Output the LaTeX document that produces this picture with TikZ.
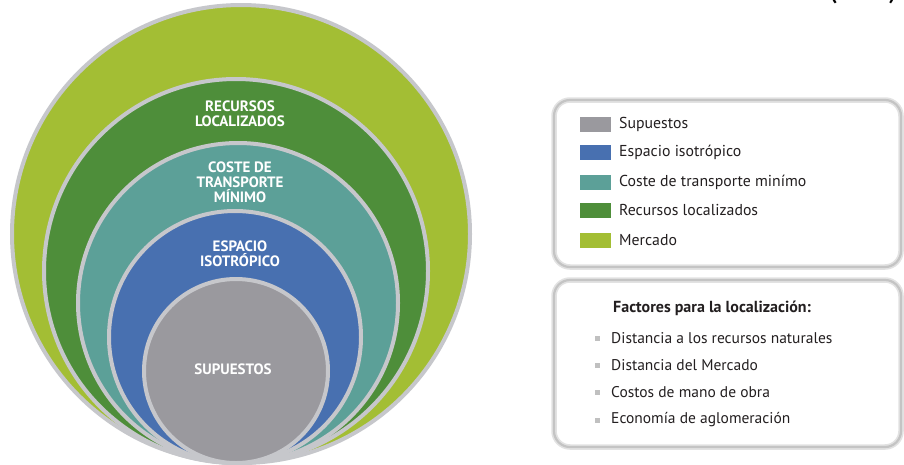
\documentclass[tikz,border=0pt]{standalone}
\usepackage{fontspec}
\setmainfont{PT Sans}
\definecolor{cLime}{HTML}{A3BE34}
\definecolor{cGreen}{HTML}{4E8E3A}
\definecolor{cTeal}{HTML}{5CA098}
\definecolor{cBlue}{HTML}{4870B0}
\definecolor{cGray}{HTML}{9A999E}
\definecolor{cRing}{HTML}{C6C7CB}
\definecolor{cBoxOut}{HTML}{E2E2E2}
\definecolor{cBoxIn}{HTML}{C4C4C4}
\definecolor{cBullet}{HTML}{C0C0C0}
\definecolor{cText}{HTML}{231F20}
\tikzset{
  ring/.style={circle, draw=cRing, line width=4pt, inner sep=0pt},
  ringlabel/.style={text=white, font=\bfseries\fontsize{15}{14.8}\selectfont, align=center, inner sep=0pt},
  swatch/.style={rectangle, minimum width=31pt, minimum height=15pt, inner sep=0pt},
  legtext/.style={anchor=west, text=cText, font=\fontsize{15.8}{18}\selectfont, inner sep=0pt},
  bulletsq/.style={rectangle, fill=cBullet, minimum size=5pt, inner sep=0pt},
  panelout/.style={draw=cBoxOut, line width=5.5pt, rounded corners=16pt},
  panelin/.style={draw=cBoxIn, line width=2.2pt, rounded corners=16pt},
}
\begin{document}
\begin{tikzpicture}[x=1pt,y=-1pt]
\useasboundingbox (0,0) rectangle (904,464);
\fill[white] (0,0) rectangle (904,464);
% nested circles
\node[ring, fill=cLime, minimum size=458pt] (mercado) at (241,234) {};
\node[ring, fill=cGreen, minimum size=384pt] (recursos) at (236,271) {};
\node[ring, fill=cTeal, minimum size=320pt] (coste) at (238,303) {};
\node[ring, fill=cBlue, minimum size=252pt] (espacio) at (235,337) {};
\node[ring, fill=cGray, minimum size=184pt] (supuestos) at (236,371) {};
% circle labels
\node[ringlabel] (lrec) at (240,114) {RECURSOS\\LOCALIZADOS};
\node[ringlabel] (lcos) at (240,182.5) {COSTE DE\\TRANSPORTE\\MÍNIMO};
\node[ringlabel] (lesp) at (240,253.5) {ESPACIO\\ISOTRÓPICO};
\node[ringlabel] (lsup) at (233,369) {SUPUESTOS};
% top-right cut text
\node[anchor=base, text=black, font=\bfseries\fontsize{20}{22}\selectfont, inner sep=0pt] (cut) at (863,-1) {(\hspace{52pt})};
% legend panel
\draw[panelout] (554,100) rectangle (901,267);
\draw[panelin] (554,100) rectangle (901,267);
\node[swatch, fill=cGray] (s1) at (595.5,124) {};
\node[swatch, fill=cBlue] (s2) at (595.5,152) {};
\node[swatch, fill=cTeal] (s3) at (595.5,182) {};
\node[swatch, fill=cGreen] (s4) at (595.5,210) {};
\node[swatch, fill=cLime] (s5) at (595.5,240) {};
\node[legtext] (t1) at (619,124) {Supuestos};
\node[legtext] (t2) at (619,152) {Espacio isotrópico};
\node[legtext] (t3) at (619,182) {Coste de transporte minímo};
\node[legtext] (t4) at (619,210) {Recursos localizados};
\node[legtext] (t5) at (619,240) {Mercado};
% factors panel
\draw[panelout] (554,280) rectangle (901,447);
\draw[panelin] (554,280) rectangle (901,447);
\node[legtext, font=\bfseries\fontsize{16}{18}\selectfont] (fh) at (613,308) {Factores para la localización:};
\node[bulletsq] (b1) at (597,338) {};
\node[bulletsq] (b2) at (597,365) {};
\node[bulletsq] (b3) at (597,392) {};
\node[bulletsq] (b4) at (597,420) {};
\node[legtext, font=\fontsize{15.5}{18}\selectfont] (f1) at (611,338) {Distancia a los recursos naturales};
\node[legtext, font=\fontsize{15.5}{18}\selectfont] (f2) at (611,365) {Distancia del Mercado};
\node[legtext, font=\fontsize{15.5}{18}\selectfont] (f3) at (611,392) {Costos de mano de obra};
\node[legtext, font=\fontsize{15.5}{18}\selectfont] (f4) at (611,420) {Economía de aglomeración};
\end{tikzpicture}
\end{document}
